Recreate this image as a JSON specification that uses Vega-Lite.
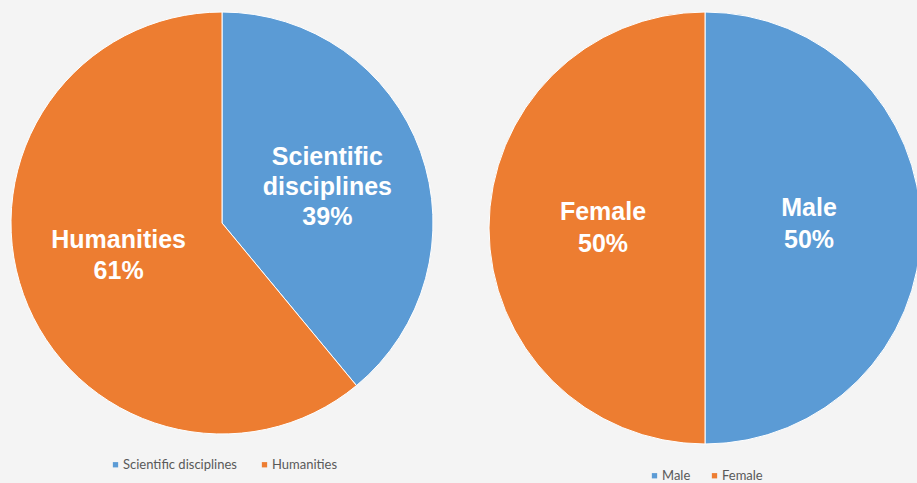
{
  "$schema": "https://vega.github.io/schema/vega-lite/v6.json",
  "background": "#f4f4f4",
  "padding": 0,
  "spacing": 43,
  "config": {
    "view": {"stroke": null, "fill": "white"},
    "font": "Liberation Sans",
    "legend": {
      "labelFont": "Lato",
      "labelFontSize": 13,
      "labelColor": "#595959",
      "symbolType": "square",
      "symbolSize": 28,
      "symbolStrokeWidth": 0,
      "direction": "horizontal",
      "orient": "none",
      "title": null,
      "columnPadding": 21,
      "labelOffset": 1
    }
  },
  "resolve": {"scale": {"color": "independent"}, "legend": {"color": "independent"}},
  "hconcat": [
    {
      "width": 444,
      "height": 446,
      "data": {"values": [
        {"category": "Scientific disciplines", "value": 39, "label": "Scientific\ndisciplines\n39%"},
        {"category": "Humanities", "value": 61, "label": "Humanities\n61%"}
      ]},
      "encoding": {
        "theta": {"field": "value", "type": "quantitative", "stack": true},
        "order": {"field": "value", "type": "quantitative", "sort": "ascending"},
        "color": {
          "field": "category", "type": "nominal",
          "scale": {"domain": ["Scientific disciplines", "Humanities"], "range": ["#5b9bd5", "#ed7d31"]},
          "legend": {"legendX": 109, "legendY": 458}
        }
      },
      "layer": [
        {"mark": {"type": "arc", "outerRadius": 211, "stroke": "white", "strokeWidth": 1}},
        {"mark": {"type": "text", "radius": 112, "dy": -28, "fontSize": 25, "fontWeight": "bold", "fill": "white", "lineBreak": "\n", "lineHeight": 30, "baseline": "middle", "align": "center"},
         "encoding": {"text": {"condition": {"test": "datum.category === 'Scientific disciplines'", "field": "label"}, "value": ""}, "color": {"value": "white"}}},
        {"mark": {"type": "text", "radius": 112, "dy": -21, "dx": 2, "fontSize": 25, "fontWeight": "bold", "fill": "white", "lineBreak": "\n", "lineHeight": 31, "baseline": "middle", "align": "center"},
         "encoding": {"text": {"condition": {"test": "datum.category === 'Humanities'", "field": "label"}, "value": ""}, "color": {"value": "white"}}}
      ]
    },
    {
      "width": 430,
      "height": 456,
      "data": {"values": [
        {"category": "Male", "value": 50, "label": "Male\n50%"},
        {"category": "Female", "value": 50, "label": "Female\n50%"}
      ]},
      "encoding": {
        "theta": {"field": "value", "type": "quantitative", "stack": true},
        "order": {"field": "category", "type": "nominal", "sort": "descending"},
        "color": {
          "field": "category", "type": "nominal",
          "scale": {"domain": ["Male", "Female"], "range": ["#5b9bd5", "#ed7d31"]},
          "legend": {"legendX": 158, "legendY": 469, "columnPadding": 17}
        }
      },
      "layer": [
        {"mark": {"type": "arc", "outerRadius": 216, "stroke": "white", "strokeWidth": 1}},
        {"mark": {"type": "text", "radius": 104, "dy": -20, "fontSize": 25, "fontWeight": "bold", "fill": "white", "lineBreak": "\n", "lineHeight": 32, "baseline": "middle", "align": "center"},
         "encoding": {"text": {"condition": {"test": "datum.category === 'Male'", "field": "label"}, "value": ""}, "color": {"value": "white"}}},
        {"mark": {"type": "text", "radius": 102, "dy": -16, "fontSize": 25, "fontWeight": "bold", "fill": "white", "lineBreak": "\n", "lineHeight": 32, "baseline": "middle", "align": "center"},
         "encoding": {"text": {"condition": {"test": "datum.category === 'Female'", "field": "label"}, "value": ""}, "color": {"value": "white"}}}
      ]
    }
  ]
}
